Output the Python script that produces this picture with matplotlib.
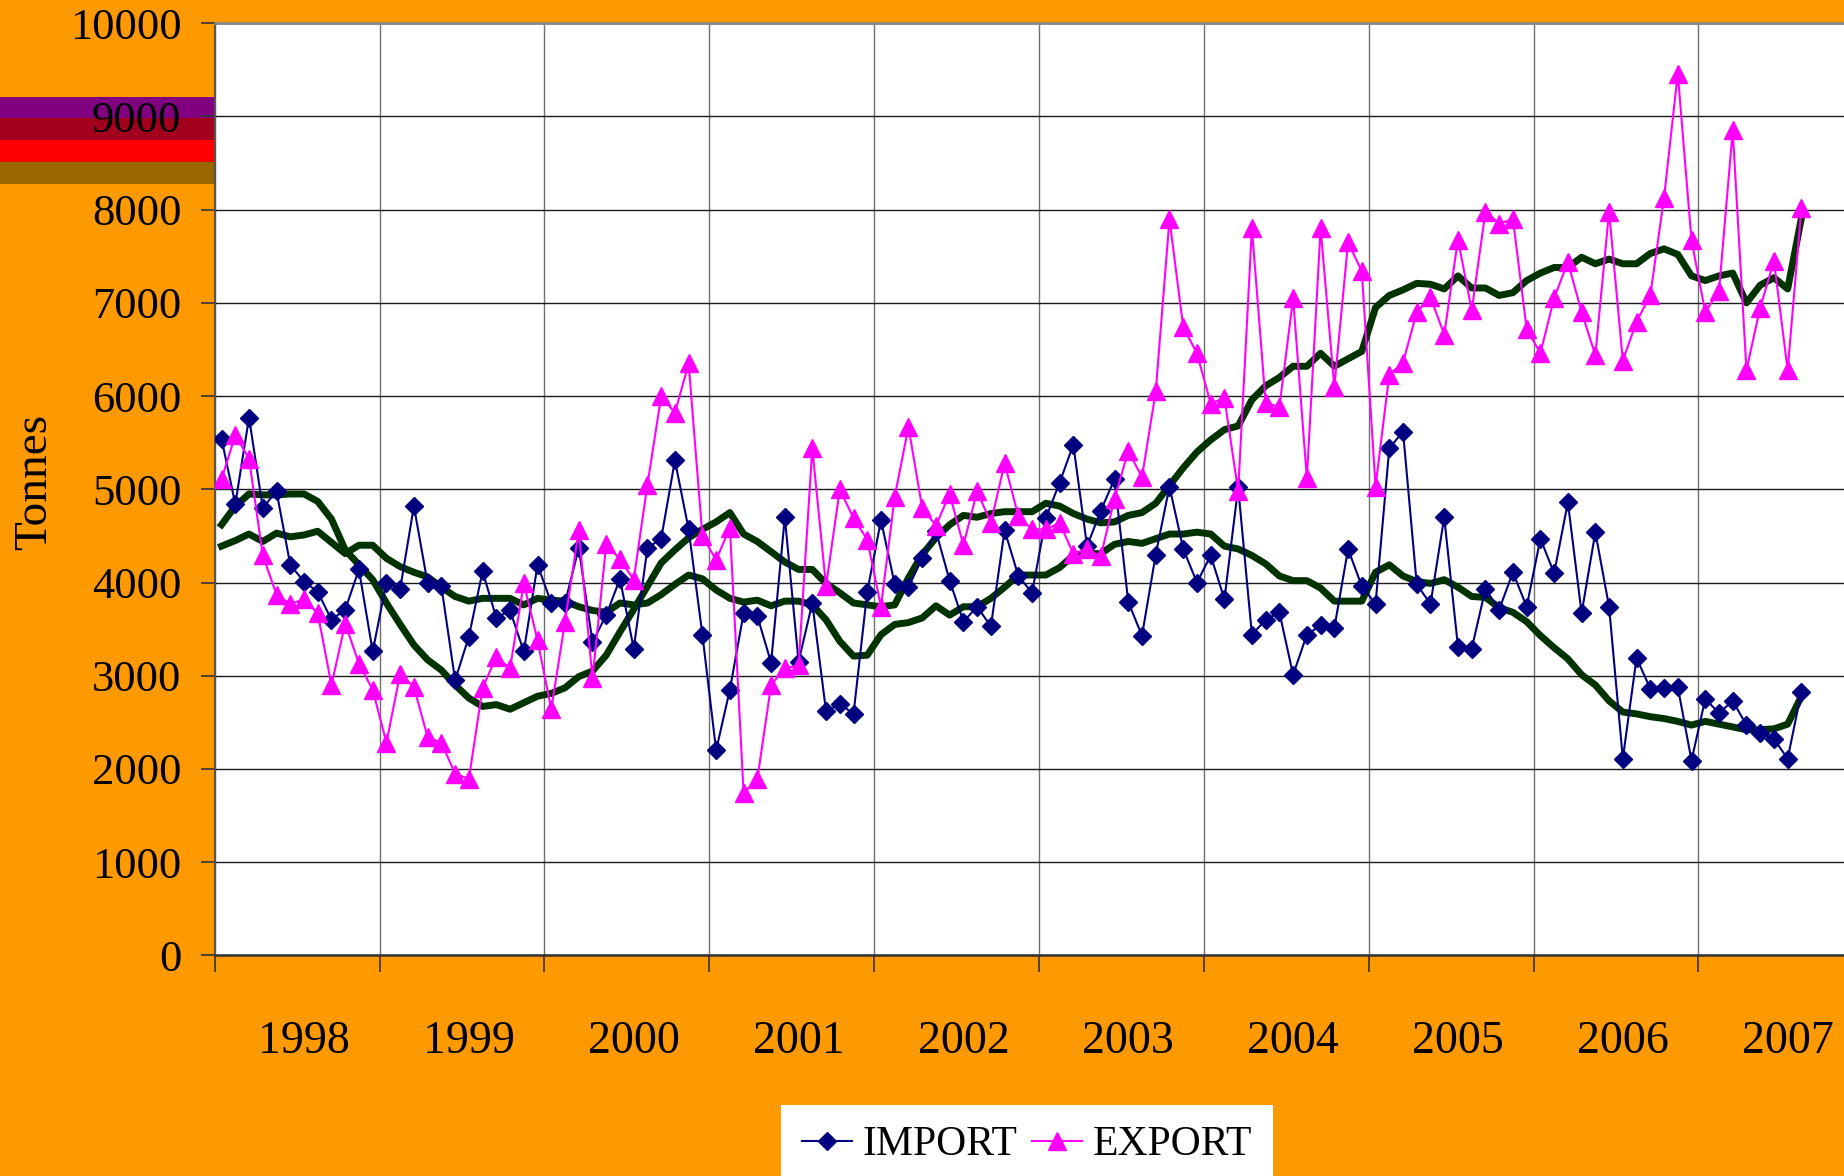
import numpy as np
import matplotlib
matplotlib.use("Agg")
import matplotlib.pyplot as plt
from matplotlib.lines import Line2D
from matplotlib.patches import Rectangle

plt.rcParams['font.family'] = ['Liberation Serif', 'DejaVu Serif']

# ---------------- data (monthly, Jan 1998 - Aug 2007) ----------------
years = ['1998', '1999', '2000', '2001', '2002', '2003', '2004', '2005', '2006', '2007']

import_t = [5540, 4840, 5770, 4800, 4980, 4190, 4010, 3900, 3600, 3710, 4140, 3260,
            4000, 3930, 4820, 3990, 3960, 2950, 3420, 4120, 3620, 3700, 3260, 4190,
            3780, 3780, 4370, 3360, 3650, 4040, 3290, 4370, 4470, 5310, 4570, 3440,
            2200, 2850, 3670, 3640, 3140, 4700, 3150, 3780, 2620, 2700, 2590, 3900,
            4670, 3980, 3950, 4260, 4550, 4020, 3580, 3740, 3530, 4560, 4070, 3890,
            4690, 5070, 5480, 4390, 4770, 5110, 3790, 3430, 4300, 5030, 4360, 4000,
            4290, 3820, 5020, 3440, 3600, 3680, 3010, 3440, 3540, 3510, 4360, 3960,
            3770, 5440, 5620, 3980, 3770, 4700, 3310, 3290, 3930, 3710, 4110, 3740,
            4470, 4100, 4860, 3670, 4540, 3740, 2110, 3190, 2860, 2870, 2880, 2090,
            2750, 2600, 2730, 2470, 2390, 2320, 2110, 2830]

export_t = [5110, 5580, 5330, 4290, 3870, 3770, 3820, 3670, 2900, 3560, 3130, 2850,
            2280, 3020, 2880, 2340, 2280, 1950, 1890, 2870, 3200, 3080, 3990, 3380,
            2640, 3580, 4560, 2970, 4410, 4250, 4030, 5050, 6000, 5820, 6350, 4500,
            4240, 4590, 1740, 1890, 2900, 3080, 3110, 5440, 3960, 5000, 4690, 4460,
            3740, 4920, 5670, 4800, 4610, 4950, 4400, 4980, 4640, 5280, 4710, 4570,
            4570, 4640, 4310, 4360, 4280, 4900, 5410, 5130, 6050, 7900, 6740, 6460,
            5920, 5980, 4980, 7800, 5930, 5880, 7050, 5120, 7800, 6100, 7650, 7340,
            5030, 6230, 6360, 6900, 7060, 6660, 7680, 6920, 7980, 7850, 7900, 6720,
            6460, 7050, 7440, 6900, 6440, 7980, 6380, 6800, 7080, 8130, 9460, 7670,
            6900, 7130, 8850, 6280, 6950, 7450, 6280, 8020]

import_avg = [4390, 4450, 4520, 4440, 4530, 4490, 4510, 4550, 4430, 4310, 4400, 4400,
              4260, 4170, 4110, 4060, 3950, 3850, 3800, 3830, 3830, 3830, 3760, 3830,
              3810, 3800, 3740, 3700, 3680, 3780, 3760, 3780, 3870, 3980, 4080, 4040,
              3920, 3830, 3790, 3810, 3750, 3800, 3800, 3760, 3600, 3370, 3210, 3220,
              3440, 3550, 3570, 3620, 3750, 3650, 3740, 3740, 3830, 3950, 4080, 4080,
              4080, 4160, 4290, 4310, 4310, 4410, 4440, 4420, 4470, 4520, 4520, 4540,
              4520, 4390, 4360, 4290, 4200, 4070, 4020, 4020, 3940, 3800, 3800, 3800,
              4110, 4190, 4070, 4010, 3990, 4030, 3950, 3850, 3840, 3730, 3680, 3580,
              3430, 3300, 3180, 3010, 2900, 2730, 2610, 2590, 2560, 2540, 2510, 2470,
              2510, 2480, 2450, 2420, 2420, 2430, 2480, 2780]

export_avg = [4620, 4820, 4950, 4940, 4940, 4950, 4950, 4870, 4680, 4350, 4190, 4030,
              3780, 3550, 3330, 3170, 3060, 2900, 2760, 2670, 2690, 2640, 2710, 2780,
              2810, 2870, 2990, 3050, 3220, 3470, 3710, 3960, 4210, 4350, 4480, 4570,
              4650, 4750, 4520, 4440, 4330, 4220, 4140, 4140, 3990, 3890, 3780, 3760,
              3740, 3760, 4050, 4300, 4480, 4620, 4720, 4700, 4740, 4760, 4760, 4760,
              4850, 4820, 4740, 4680, 4640, 4650, 4720, 4750, 4850, 5040, 5230, 5400,
              5530, 5640, 5680, 5960, 6110, 6200, 6320, 6320, 6460, 6320, 6400, 6480,
              6950, 7080, 7140, 7210, 7200, 7150, 7290, 7160, 7160, 7080, 7110, 7240,
              7320, 7380, 7380, 7490, 7420, 7470, 7420, 7420, 7530, 7580, 7520, 7290,
              7240, 7290, 7320, 7000, 7190, 7270, 7150, 7910]

series_names = ['IMPORT', 'EXPORT']
y_label = 'Tonnes'

# ---------------- styling ----------------
W, H = 1844, 1176
ORANGE = '#FF9900'
NAVY = '#000080'
MAGENTA = '#FF00FF'
GREEN = '#003300'

fig = plt.figure(figsize=(W / 100, H / 100), dpi=100, facecolor=ORANGE)

# decorative colour bands at left
bands = [(97, 118, '#800080'), (118, 140, '#A3001E'), (140, 162, '#FF0000'), (162, 184, '#996600')]
for y0, y1, c in bands:
    fig.add_artist(Rectangle((0, 1 - y1 / H), 214 / W, (y1 - y0) / H,
                             transform=fig.transFigure, color=c, zorder=-1, lw=0))

left, bottom, top = 214.7 / W, 1 - 955.3 / H, 1 - 23.3 / H
ax = fig.add_axes([left, bottom, 1 - left, top - bottom])
ax.set_facecolor('white')

x = np.arange(len(import_t))

ax.plot(x, import_avg, color=GREEN, lw=5.0, zorder=2)
ax.plot(x, export_avg, color=GREEN, lw=5.0, zorder=2)
ax.plot(x, import_t, color=NAVY, lw=1.5, marker='D', ms=9.5, mfc=NAVY, mec=NAVY, zorder=3)
ax.plot(x, export_t, color=MAGENTA, lw=1.5, marker='^', ms=13.5, mfc=MAGENTA, mec=MAGENTA, zorder=3)

ax.set_xlim(-0.5, 118.1)
ax.set_ylim(0, 10000)

ax.set_yticks(np.arange(0, 10001, 1000))
ax.tick_params(axis='y', which='major', length=10, width=1.2, color='#333333',
               pad=14, labelsize=32)

major_x = np.arange(-0.5, 118, 12)
ax.set_xticks(major_x, labels=[''] * len(major_x))
ax.set_xticks(np.arange(6, 118, 12), labels=years, minor=True)
ax.tick_params(axis='x', which='major', length=12, width=1.2, color='#333333')
ax.tick_params(axis='x', which='minor', length=0, pad=47, labelsize=33)

ax.grid(axis='y', which='major', color='#1a1a1a', lw=1.0, zorder=0)
ax.grid(axis='x', which='major', color='#707070', lw=1.0, zorder=0)
ax.set_axisbelow(True)

ax.spines['right'].set_visible(False)
ax.spines['top'].set_color('#888888')
ax.spines['top'].set_linewidth(2.0)
ax.spines['left'].set_color('#555555')
ax.spines['left'].set_linewidth(1.5)
ax.spines['bottom'].set_color('#333333')
ax.spines['bottom'].set_linewidth(1.8)

fig.text(35 / W, 1 - 482 / H, y_label, rotation=90, ha='center', va='center', fontsize=34)

handles = [Line2D([], [], color=NAVY, lw=1.5, marker='D', ms=9.5),
           Line2D([], [], color=MAGENTA, lw=1.5, marker='^', ms=13.5)]
leg = fig.legend(handles, series_names, loc='upper center', bbox_to_anchor=(1027 / W, 1 - 1105 / H),
                 ncol=2, frameon=True, fancybox=False, edgecolor='white', facecolor='white',
                 framealpha=1, fontsize=30, handlelength=1.2, handletextpad=0.25,
                 columnspacing=0.35, borderpad=0.5, borderaxespad=0)
leg.get_frame().set_linewidth(0)

fig.savefig('out.png', dpi=100, facecolor=ORANGE)
